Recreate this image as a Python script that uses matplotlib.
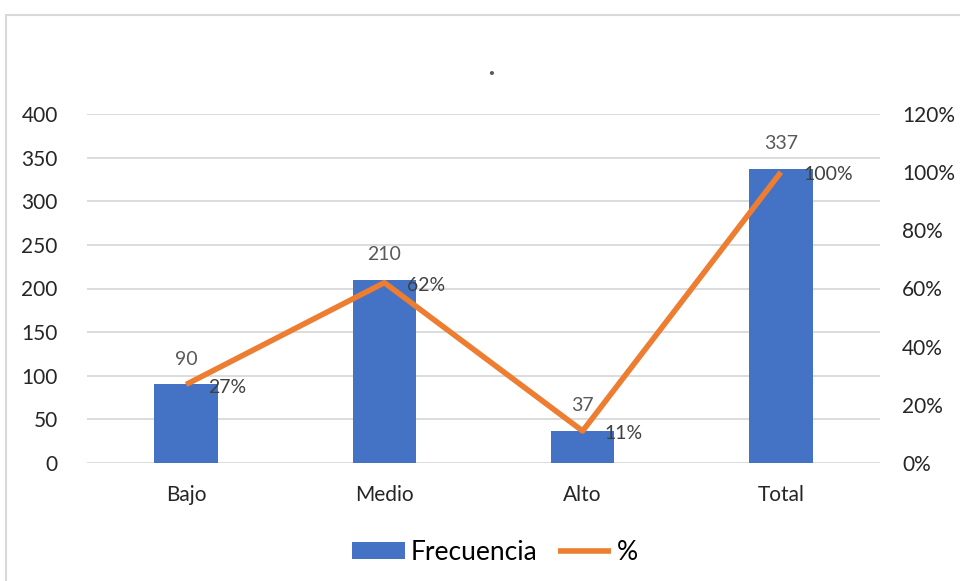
import matplotlib
matplotlib.use('Agg')
from matplotlib import pyplot as plt
from matplotlib.patches import Rectangle
from matplotlib.ticker import FuncFormatter

plt.rcParams['font.family'] = ['Lato', 'DejaVu Sans']

# Data
categorias = ['Bajo', 'Medio', 'Alto', 'Total']
frecuencia = [90, 210, 37, 337]
porcentaje = [0.27, 0.62, 0.11, 1.00]
etiquetas_pct = ['27%', '62%', '11%', '100%']

azul = '#4472C4'
naranja = '#ED7D31'
gris = '#D9D9D9'

fig = plt.figure(figsize=(9.6, 5.81), dpi=100)
ax = fig.add_axes([87 / 960, 118 / 581, 793 / 960, 349 / 581])
ax2 = ax.twinx()

x = range(len(categorias))
ax.bar(x, frecuencia, width=0.32, color=azul, zorder=2, label='Frecuencia')
ax2.plot(x, porcentaje, color=naranja, linewidth=4, zorder=3, label='%',
         solid_capstyle='butt')

ax.set_ylim(0, 400)
ax.set_yticks(range(0, 401, 50))
ax2.set_ylim(0, 1.2)
ax2.set_yticks([0, 0.2, 0.4, 0.6, 0.8, 1.0, 1.2])
ax2.yaxis.set_major_formatter(FuncFormatter(lambda v, p: f'{v * 100:.0f}%'))
ax.set_xlim(-0.5, 3.5)
ax.set_xticks(list(x))
ax.set_xticklabels(categorias)

ax.grid(axis='y', color=gris, linewidth=1.3, zorder=0)
ax.set_axisbelow(True)
for a in (ax, ax2):
    for s in a.spines.values():
        s.set_visible(False)
    a.tick_params(length=0, labelsize=15, labelcolor='#262626')
ax.tick_params(axis='y', pad=21)
ax.tick_params(axis='x', pad=16)
ax2.tick_params(axis='y', pad=16)
ax.set_zorder(1)
ax2.set_zorder(2)
ax.patch.set_visible(False)

# labels
for i, v in enumerate(frecuencia):
    ax.annotate(str(v), (i, v), xytext=(0, 18), textcoords='offset points',
                ha='center', va='center', fontsize=14, color='#595959')
for i, v in enumerate(porcentaje):
    ax2.annotate(etiquetas_pct[i], (i, v), xytext=(16, -2), textcoords='offset points',
                 ha='left', va='center', fontsize=14, color='#404040')

fig.text(491 / 960, 1 - 66 / 581, '.', ha='center', va='center', fontsize=24, color='#595959')

h1, l1 = ax.get_legend_handles_labels()
h2, l2 = ax2.get_legend_handles_labels()
fig.legend(h1 + h2, l1 + l2, loc='center', bbox_to_anchor=(495 / 960, 1 - 552 / 581),
           ncol=2, frameon=False, fontsize=19, handlelength=2.0, handleheight=0.6,
           columnspacing=0.8, handletextpad=0.2)

fig.patches.append(Rectangle((6 / 960, -0.1), 1.1, 1 - 15 / 581 + 0.1,
                             transform=fig.transFigure, fill=False,
                             edgecolor='#D9D9D9', linewidth=1.5))

fig.savefig('out.png', dpi=100)
